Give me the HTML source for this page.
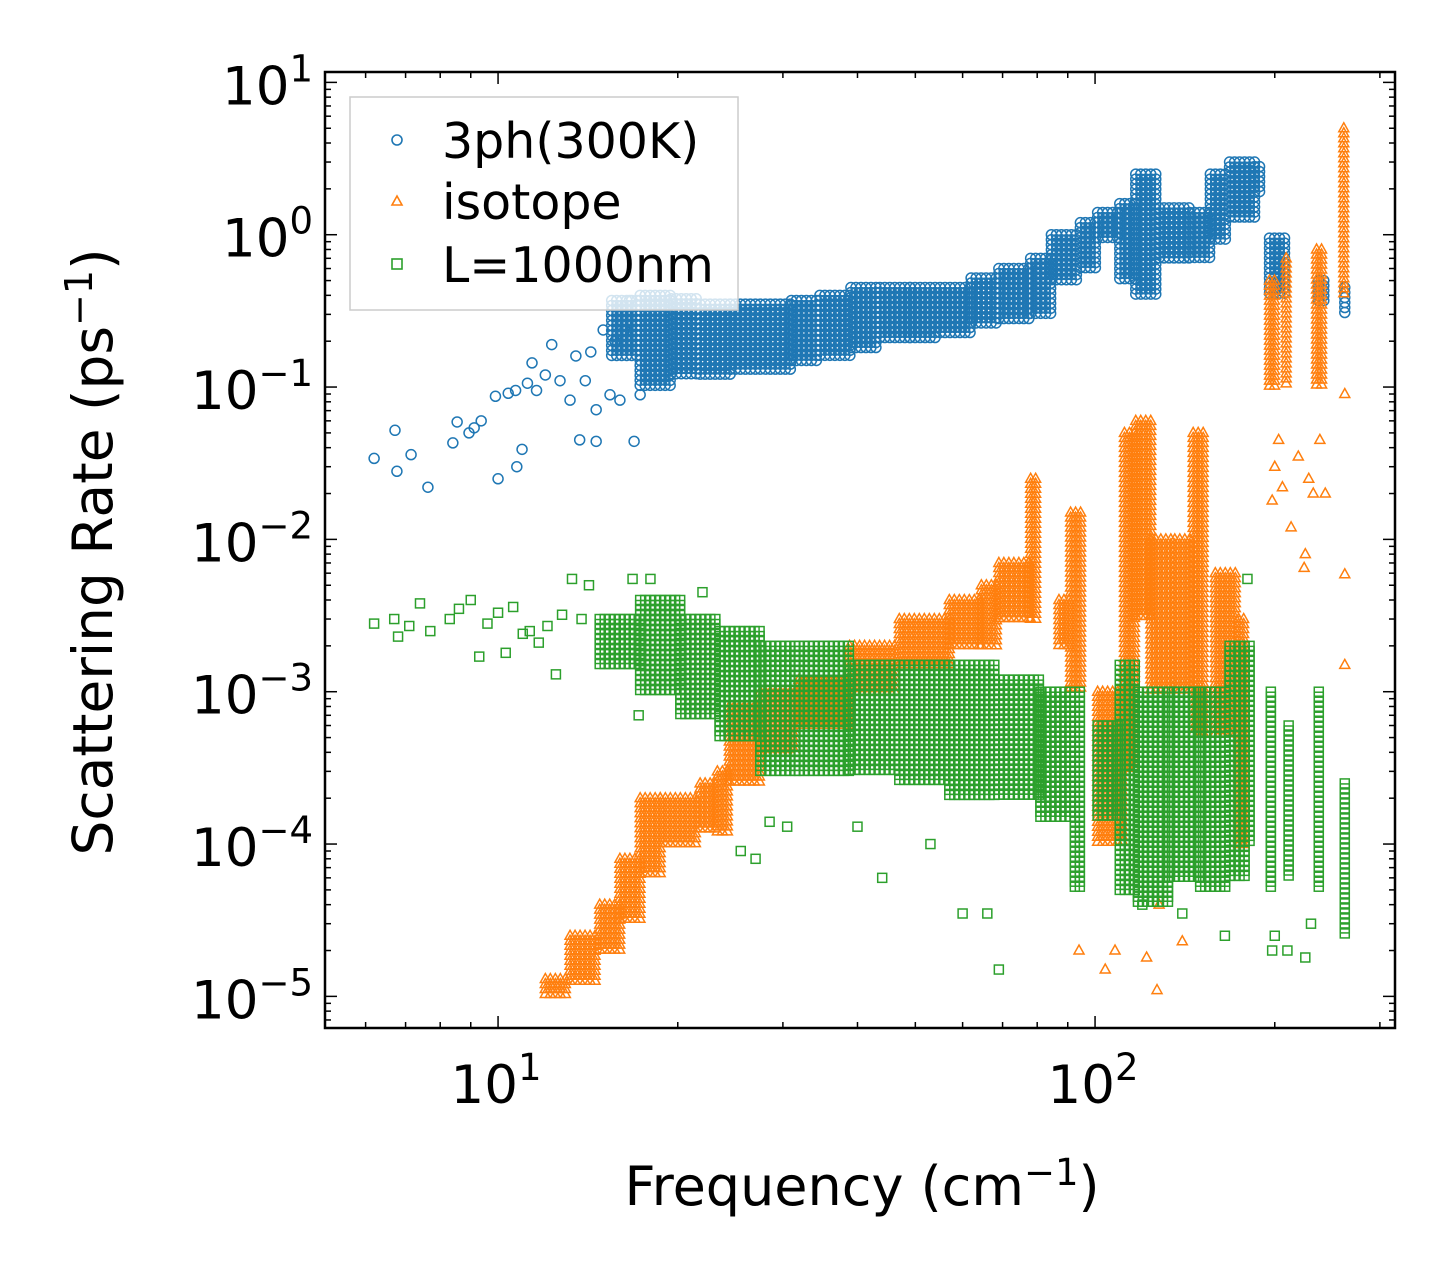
<!DOCTYPE html>
<html><head><meta charset="utf-8"><style>
body{margin:0;background:#fff}
svg{display:block;font-family:"DejaVu Sans","Liberation Sans",sans-serif}
</style></head><body>
<svg id="chart" width="1455" height="1278" viewBox="0 0 1455 1278" xmlns="http://www.w3.org/2000/svg">
<rect width="1455" height="1278" fill="#fff"/>
<g id="marks"></g>
<g id="axes"></g>
<text x="862" y="1205" font-size="54" text-anchor="middle">Frequency (cm<tspan dy="-20" font-size="37">−1</tspan><tspan dy="20">)</tspan></text>
<text transform="translate(112,552) rotate(-90)" font-size="55" text-anchor="middle">Scattering Rate (ps<tspan dy="-20" font-size="38">−1</tspan><tspan dy="20">)</tspan></text>
<g>
<rect x="350" y="97" width="388" height="213" fill="#fff" fill-opacity="0.8" stroke="#ccc" stroke-width="1.5"/>
<g><circle cx="397" cy="140" r="5" fill="none" stroke="#1f77b4" stroke-width="1.6"/><text x="442" y="158" font-size="49">3ph(300K)</text></g>
<g><path d="M397,196 L402,205 L392,205 Z" fill="none" stroke="#ff7f0e" stroke-width="1.6"/><text x="442" y="219" font-size="49">isotope</text></g>
<g><rect x="392" y="259" width="10" height="10" fill="none" stroke="#2ca02c" stroke-width="1.6"/><text x="442" y="282" font-size="49">L=1000nm</text></g>
</g>
</svg>
<script>
// Axis ranges
const xDomain = [5.13, 318];
const yDomain = [6.2e-6, 11.7];
const xMajorTicks = [10, 100];
const xMajorLabels = ["1", "2"];
const yMajorTicks = [10, 1, 0.1, 0.01, 0.001, 0.0001, 0.00001];
const yMajorLabels = ["1", "0", "−1", "−2", "−3", "−4", "−5"];

// 3ph (300K): band entries [freq, low, high]
const phBandFreq = [15.5, 17.3, 19.5, 21.8, 24.5, 27.5, 31, 34.6, 39, 43.6, 49, 55, 62, 69, 78, 84.5, 94.5, 101, 110, 117, 128, 144, 156, 168, 185, 196, 237, 262];
const phBandLow  = [0.15, 0.1, 0.12, 0.12, 0.13, 0.13, 0.14, 0.15, 0.18, 0.2, 0.21, 0.22, 0.25, 0.28, 0.3, 0.5, 0.6, 0.9, 0.5, 0.4, 0.7, 0.7, 0.9, 1.3, 1.8, 0.4, 0.35, 0.3];
const phBandHigh = [0.37, 0.4, 0.38, 0.35, 0.35, 0.35, 0.37, 0.4, 0.45, 0.45, 0.45, 0.45, 0.52, 0.6, 0.7, 1.0, 1.2, 1.4, 1.6, 2.5, 1.5, 1.4, 2.5, 3.0, 2.8, 0.95, 0.5, 0.45];
const phBandEnd  = [17.3, 19.5, 21.8, 24.5, 27.5, 31, 34.6, 39, 43.6, 49, 55, 62, 69, 78, 84.5, 94.5, 101, 110, 117, 128, 144, 156, 168, 185, 190, 208, 243, 264];
// 3ph sparse points
const phFreq = [6.2, 6.72, 6.77, 7.15, 7.63, 8.4, 8.54, 8.94, 9.12, 9.37, 9.9, 10.0, 10.4, 10.7, 10.75, 10.97, 11.2, 11.4, 11.6, 12.0, 12.3, 12.7, 13.2, 13.5, 13.7, 14.0, 14.3, 14.6, 14.6, 15.4, 16.0, 16.9, 17.3, 15.0, 15.7, 16.3, 16.6];
const phRate = [0.034, 0.052, 0.028, 0.036, 0.022, 0.043, 0.059, 0.05, 0.054, 0.06, 0.087, 0.025, 0.091, 0.095, 0.03, 0.039, 0.106, 0.144, 0.095, 0.12, 0.19, 0.11, 0.082, 0.16, 0.045, 0.11, 0.17, 0.044, 0.071, 0.089, 0.082, 0.044, 0.089, 0.237, 0.2, 0.237, 0.37];

// isotope: band entries
const isoBandFreq = [12.0, 13.2, 14.8, 16.0, 17.3, 18.7, 21.8, 23.3, 24.4, 27.5, 31.9, 38.8, 47, 57, 64.5, 69, 78, 87, 91, 101, 112, 117, 124, 136, 146, 159, 174, 196, 209, 235, 261];
const isoBandLow  = [1e-5, 1.2e-5, 2e-5, 3e-5, 6e-5, 1e-4, 1.2e-4, 1.2e-4, 2.5e-4, 4e-4, 6e-4, 1e-3, 1.5e-3, 2e-3, 2e-3, 3e-3, 3e-3, 2e-3, 1e-3, 1e-4, 3e-4, 3e-3, 1e-3, 1e-3, 5e-4, 5e-4, 1e-4, 0.1, 0.1, 0.1, 0.4];
const isoBandHigh = [1.3e-5, 2.5e-5, 4e-5, 8e-5, 2e-4, 2e-4, 2.5e-4, 3e-4, 8e-4, 1e-3, 1.2e-3, 2e-3, 3e-3, 4e-3, 5e-3, 7e-3, 0.025, 4e-3, 0.015, 1e-3, 0.05, 0.06, 0.01, 0.01, 0.05, 0.006, 3e-3, 0.5, 0.7, 0.8, 5.0];
const isoBandEnd  = [13.2, 14.8, 16.0, 17.3, 18.7, 21.8, 23.3, 24.4, 27.5, 31.9, 38.8, 47, 57, 64.5, 69, 78, 81, 91, 96, 112, 117, 124, 136, 146, 152, 174, 180, 200, 213, 240, 264];
const isoFreq = [94, 104, 108, 122, 127, 140, 128, 198, 200, 203, 206, 213, 219, 224, 228, 232, 238, 243, 262, 262, 262, 225];
const isoRate = [2e-5, 1.5e-5, 2e-5, 1.8e-5, 1.1e-5, 2.3e-5, 4e-5, 0.018, 0.03, 0.045, 0.022, 0.012, 0.035, 0.0065, 0.025, 0.02, 0.045, 0.02, 0.0059, 0.0015, 0.09, 0.008];

// L=1000nm: band entries
const bdBandFreq = [14.8, 17.3, 20.2, 23.5, 27.5, 31.9, 38.8, 47, 57, 69, 81, 92.5, 101, 110, 118, 133, 150, 168, 178, 197, 211, 237, 262];
const bdBandLow  = [1.5e-3, 1e-3, 7e-4, 5e-4, 3e-4, 3e-4, 3e-4, 2.5e-4, 2e-4, 2e-4, 1.5e-4, 5e-5, 1.5e-4, 5e-5, 4e-5, 6e-5, 5e-5, 6e-5, 1e-4, 5e-5, 6e-5, 5e-5, 2.5e-5];
const bdBandHigh = [3e-3, 4e-3, 3e-3, 2.5e-3, 2e-3, 2e-3, 1.5e-3, 1.5e-3, 1.5e-3, 1.2e-3, 1e-3, 1e-3, 6e-4, 1.5e-3, 1e-3, 1e-3, 1e-3, 2e-3, 2e-3, 1e-3, 6e-4, 1e-3, 2.5e-4];
const bdBandEnd  = [17.3, 20.2, 23.5, 27.5, 31.9, 38.8, 47, 57, 69, 81, 92.5, 96, 110, 118, 133, 150, 168, 178, 184, 200, 214, 241, 264];
const bdFreq = [6.2, 6.7, 6.8, 7.1, 7.4, 7.7, 8.3, 8.6, 9.0, 9.3, 9.6, 10.0, 10.3, 10.6, 11.0, 11.3, 11.7, 12.1, 12.5, 12.8, 13.3, 13.8, 14.2, 16.8, 17.2, 18.0, 22.0, 25.5, 27.0, 28.5, 30.5, 40, 44, 53, 60, 66, 69, 120, 140, 165, 180, 198, 200, 210, 225, 230];
const bdRate = [2.8e-3, 3e-3, 2.3e-3, 2.7e-3, 3.8e-3, 2.5e-3, 3e-3, 3.5e-3, 4e-3, 1.7e-3, 2.8e-3, 3.3e-3, 1.8e-3, 3.6e-3, 2.4e-3, 2.5e-3, 2.1e-3, 2.7e-3, 1.3e-3, 3.2e-3, 5.5e-3, 3e-3, 5e-3, 5.5e-3, 7e-4, 5.5e-3, 4.5e-3, 9e-5, 8e-5, 1.4e-4, 1.3e-4, 1.3e-4, 6e-5, 1e-4, 3.5e-5, 3.5e-5, 1.5e-5, 4e-5, 3.5e-5, 2.5e-5, 5.5e-3, 2e-5, 2.5e-5, 2e-5, 1.8e-5, 3e-5];

const NS = "http://www.w3.org/2000/svg";
const L = 325, R = 1395, T = 72, B = 1028;
function xs(v){ return L + (Math.log10(v) - Math.log10(xDomain[0])) / (Math.log10(xDomain[1]) - Math.log10(xDomain[0])) * (R - L); }
function ys(v){ return B - (Math.log10(v) - Math.log10(yDomain[0])) / (Math.log10(yDomain[1]) - Math.log10(yDomain[0])) * (B - T); }
const marks = document.getElementById("marks");
const axes = document.getElementById("axes");

function marker(kind, cx, cy, color){
  let el;
  if (kind === "circle") {
    el = document.createElementNS(NS, "circle");
    el.setAttribute("cx", cx); el.setAttribute("cy", cy); el.setAttribute("r", 5);
  } else if (kind === "tri") {
    el = document.createElementNS(NS, "path");
    el.setAttribute("d", `M${cx},${cy-5.5} L${cx+5},${cy+3.5} L${cx-5},${cy+3.5} Z`);
  } else {
    el = document.createElementNS(NS, "rect");
    el.setAttribute("x", cx-4.5); el.setAttribute("y", cy-4.5); el.setAttribute("width", 9); el.setAttribute("height", 9);
  }
  el.setAttribute("fill", "none"); el.setAttribute("stroke", color); el.setAttribute("stroke-width", 1.5);
  return el;
}

function drawSeries(name, kind, color, bf, bl, bh, be, pf, pr){
  const g = document.createElementNS(NS, "g");
  
  
  for (let i = 0; i < bf.length; i++) {
    const x0 = xs(bf[i]), x1 = xs(be[i]);
    const y0 = ys(bh[i]), y1 = ys(bl[i]);
    for (let x = x0; x <= x1 + 0.01; x += 5) {
      for (let y = y0; y <= y1 + 0.01; y += 5) {
        const m = marker(kind, x, y, color);
        
        
        g.appendChild(m);
      }
    }
  }
  for (let i = 0; i < pf.length; i++) {
    const m = marker(kind, xs(pf[i]), ys(pr[i]), color);
    
    
    g.appendChild(m);
  }
  marks.appendChild(g);
}
drawSeries("3ph", "circle", "#1f77b4", phBandFreq, phBandLow, phBandHigh, phBandEnd, phFreq, phRate);
drawSeries("isotope", "tri", "#ff7f0e", isoBandFreq, isoBandLow, isoBandHigh, isoBandEnd, isoFreq, isoRate);
drawSeries("boundary", "square", "#2ca02c", bdBandFreq, bdBandLow, bdBandHigh, bdBandEnd, bdFreq, bdRate);

function line(x1,y1,x2,y2,w,name){
  const l = document.createElementNS(NS, "line");
  l.setAttribute("x1",x1); l.setAttribute("y1",y1); l.setAttribute("x2",x2); l.setAttribute("y2",y2);
  l.setAttribute("stroke","#000"); l.setAttribute("stroke-width",w);
  
  
  axes.appendChild(l);
}
for (let d = 1; d <= 100; d *= 10) {
  for (let k = 1; k < 10; k++) {
    const v = d * k;
    if (v < xDomain[0] || v > xDomain[1]) continue;
    const x = xs(v); const len = k === 1 ? 12 : 6;
    line(x, B, x, B - len, 1.5, "x-tick");
    line(x, T, x, T + len, 1.5, "x-tick");
  }
}
for (let e = -6; e <= 1; e++) {
  for (let k = 1; k < 10; k++) {
    const v = Math.pow(10, e) * k;
    if (v < yDomain[0] || v > yDomain[1]) continue;
    const y = ys(v); const len = k === 1 ? 12 : 6;
    line(L, y, L + len, y, 1.5, "y-tick");
    line(R, y, R - len, y, 1.5, "y-tick");
  }
}
const frame = document.createElementNS(NS, "rect");
frame.setAttribute("x", L); frame.setAttribute("y", T); frame.setAttribute("width", R-L); frame.setAttribute("height", B-T);
frame.setAttribute("fill", "none"); frame.setAttribute("stroke", "#000"); frame.setAttribute("stroke-width", 2.5);


axes.appendChild(frame);

function label(x, y, exp, anchor, name){
  const t = document.createElementNS(NS, "text");
  t.setAttribute("x", x); t.setAttribute("y", y); t.setAttribute("font-size", 53); t.setAttribute("text-anchor", anchor);
  
  
  t.appendChild(document.createTextNode("10"));
  const s = document.createElementNS(NS, "tspan");
  s.setAttribute("dy", -23); s.setAttribute("font-size", 37);
  s.textContent = exp;
  t.appendChild(s);
  axes.appendChild(t);
}
xMajorTicks.forEach((v, i) => label(xs(v) - 2, 1103, xMajorLabels[i], "middle", "x-tick-label"));
yMajorTicks.forEach((v, i) => label(L - 12, ys(v) + 22, yMajorLabels[i], "end", "y-tick-label"));
</script>
</body></html>
